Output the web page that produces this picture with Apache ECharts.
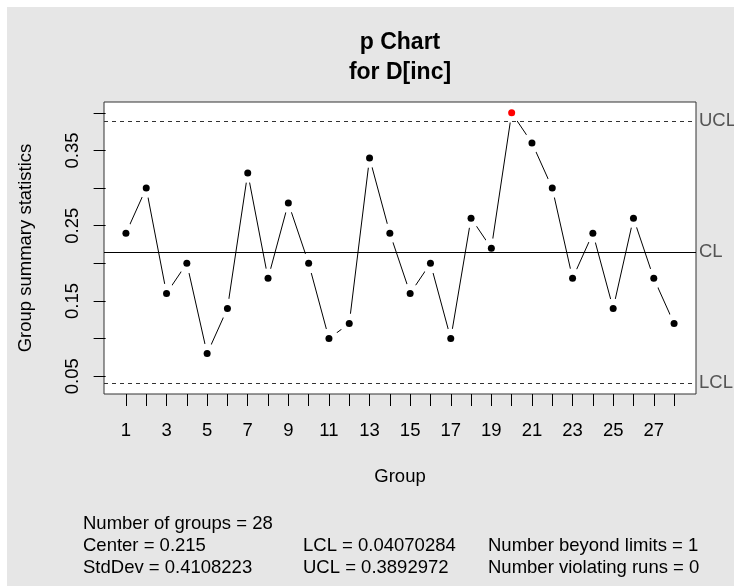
<!DOCTYPE html>
<html>
<head>
<meta charset="utf-8">
<script src="https://cdn.jsdelivr.net/npm/echarts@6/dist/echarts.min.js"></script>
<style>
  html, body { margin: 0; padding: 0; background: #fff; }
  #main {
    width: 734px; height: 586px;
    background: linear-gradient(#e6e6e6, #e6e6e6) 7px 7px / 727px 579px no-repeat, #fff;
  }
</style>
</head>
<body>
<div id="main"></div>
<script>
  // p chart data: proportion per group (sample size 50)
  var groups = [1, 2, 3, 4, 5, 6, 7, 8, 9, 10, 11, 12, 13, 14,
                15, 16, 17, 18, 19, 20, 21, 22, 23, 24, 25, 26, 27, 28];
  var proportions = [0.24, 0.30, 0.16, 0.20, 0.08, 0.14, 0.32, 0.18, 0.28, 0.20,
                     0.10, 0.12, 0.34, 0.24, 0.16, 0.20, 0.10, 0.26, 0.22, 0.40,
                     0.36, 0.30, 0.18, 0.24, 0.14, 0.26, 0.18, 0.12];
  var sampleSize = 50;
  var xLabelValues = [1, 3, 5, 7, 9, 11, 13, 15, 17, 19, 21, 23, 25, 27];
  var yTickValues = [0.05, 0.10, 0.15, 0.20, 0.25, 0.30, 0.35, 0.40];
  var yLabelValues = [0.05, 0.15, 0.25, 0.35];

  var center = proportions.reduce(function (a, b) { return a + b; }, 0) / proportions.length;
  var stdDev = Math.sqrt(center * (1 - center));
  var lcl = center - 3 * stdDev / Math.sqrt(sampleSize);
  var ucl = center + 3 * stdDev / Math.sqrt(sampleSize);
  var beyond = proportions.filter(function (v) { return v > ucl || v < lcl; }).length;

  function fmt(v) { return String(Number(v.toPrecision(7))); }

  // axis range like R: data range extended by 4%
  var ylo = Math.min(lcl, Math.min.apply(null, proportions));
  var yhi = Math.max(ucl, Math.max.apply(null, proportions));
  var yext = (yhi - ylo) * 0.04;
  var xext = (groups.length - 1) * 0.04;

  var points = groups.map(function (g, i) { return [g, proportions[i]]; });

  var font = 'Liberation Sans, Arial, sans-serif';
  var chart = echarts.init(document.getElementById('main'), null, { renderer: 'canvas' });

  var option = {
    animation: false,
    textStyle: { fontFamily: font },
    title: {
      text: 'p Chart\nfor D[inc]',
      left: 400,
      top: 28,
      padding: 0,
      textAlign: 'center',
      textStyle: { fontFamily: font, fontSize: 23, fontWeight: 'bold', lineHeight: 30, color: '#000' }
    },
    grid: {
      left: 104, top: 102, right: 38, bottom: 192,
      show: true, backgroundColor: '#fff', borderColor: '#333', borderWidth: 1
    },
    xAxis: {
      type: 'value',
      min: 1 - xext,
      max: groups.length + xext,
      name: 'Group',
      nameLocation: 'middle',
      nameGap: 73,
      nameTextStyle: { fontSize: 18.5, color: '#000', fontFamily: font },
      axisLine: { show: false },
      splitLine: { show: false },
      axisTick: { show: true, length: 12, customValues: groups, lineStyle: { color: '#000' } },
      axisLabel: { customValues: xLabelValues, margin: 27, fontSize: 18.5, color: '#000', fontFamily: font }
    },
    yAxis: {
      type: 'value',
      min: ylo - yext,
      max: yhi + yext,
      name: 'Group summary statistics',
      nameLocation: 'middle',
      nameRotate: 90,
      nameGap: 69,
      nameTextStyle: { fontSize: 18.5, color: '#000', fontFamily: font },
      axisLine: { show: false },
      splitLine: { show: false },
      axisTick: { show: true, length: 12, customValues: yTickValues, lineStyle: { color: '#000' } },
      axisLabel: {
        customValues: yLabelValues, rotate: 90, margin: 22, fontSize: 18.5, color: '#000', fontFamily: font,
        formatter: function (v) { return v.toFixed(2); }
      }
    },
    series: [
      {
        type: 'line',
        data: points,
        showSymbol: false,
        silent: true,
        z: 2,
        lineStyle: { color: '#000', width: 1 }
      },
      {
        // white halo so the connecting line stops short of each point (R type "b")
        type: 'scatter',
        data: points,
        symbolSize: 20,
        silent: true,
        z: 3,
        itemStyle: { color: '#fff', opacity: 1 }
      },
      {
        type: 'scatter',
        data: points,
        symbolSize: 7,
        silent: true,
        z: 4,
        itemStyle: {
          opacity: 1,
          color: function (p) { return (p.value[1] > ucl || p.value[1] < lcl) ? '#ff0000' : '#000'; }
        },
        markLine: {
          silent: true,
          symbol: 'none',
          precision: 10,
          animation: false,
          label: {
            show: true, position: 'end', distance: 3, padding: [4, 0, 0, 0],
            fontSize: 18.5, color: '#555', fontFamily: font,
            formatter: function (p) { return p.name; }
          },
          data: [
            { name: 'UCL', yAxis: ucl, lineStyle: { type: [4, 4], color: '#333', width: 1 } },
            { name: 'CL', yAxis: center, lineStyle: { type: 'solid', color: '#000', width: 1 } },
            { name: 'LCL', yAxis: lcl, lineStyle: { type: [4, 4], color: '#333', width: 1 } }
          ]
        }
      }
    ],
    graphic: [
      {
        type: 'text', left: 83, top: 513,
        style: {
          text: 'Number of groups = ' + groups.length + '\nCenter = ' + fmt(center) + '\nStdDev = ' + fmt(stdDev),
          font: '18.5px ' + font, lineHeight: 22, fill: '#000'
        }
      },
      {
        type: 'text', left: 303, top: 535,
        style: {
          text: 'LCL = ' + fmt(lcl) + '\nUCL = ' + fmt(ucl),
          font: '18.5px ' + font, lineHeight: 22, fill: '#000'
        }
      },
      {
        type: 'text', left: 488, top: 535,
        style: {
          text: 'Number beyond limits = ' + beyond + '\nNumber violating runs = 0',
          font: '18.5px ' + font, lineHeight: 22, fill: '#000'
        }
      }
    ]
  };

  chart.setOption(option);
  window.addEventListener('resize', chart.resize);
</script>
</body>
</html>
